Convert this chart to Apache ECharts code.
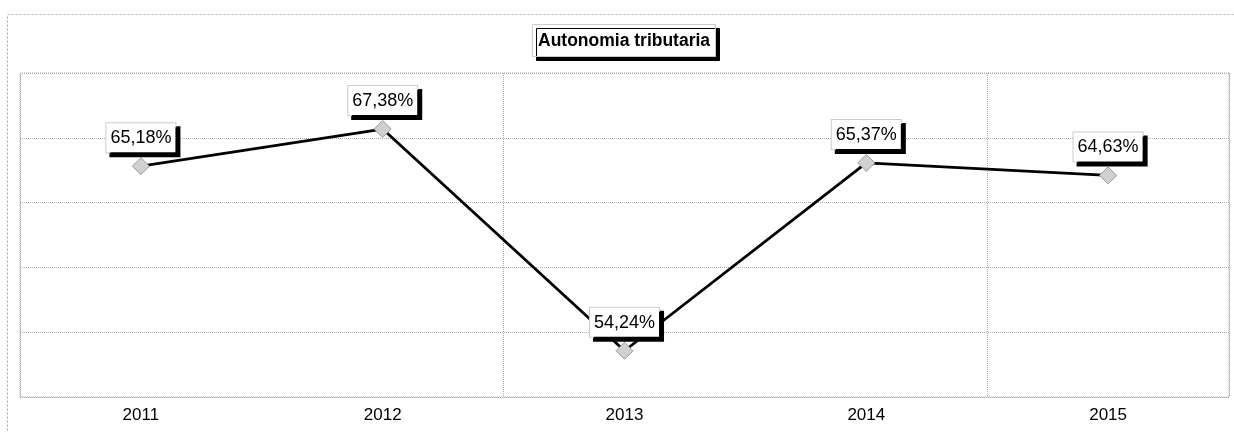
<!DOCTYPE html>
<html lang="es">

<head>
  <meta charset="UTF-8">
  <title>Autonomia tributaria</title>
  <style>
    html, body {
      margin: 0;
      padding: 0;
      background: #fff;
    }

    #chart {
      width: 1234px;
      height: 432px;
    }

  </style>
  <script src="https://cdn.jsdelivr.net/npm/echarts@6/dist/echarts.min.js"></script>
</head>

<body>
  <div id="chart"></div>
  <script>
    var years = ['2011', '2012', '2013', '2014', '2015'];
    var autonomia = [65.18, 67.38, 54.24, 65.37, 64.63];

    var chart = echarts.init(document.getElementById('chart'));

    function pct(v) {
      return v.toFixed(2).replace('.', ',') + '%';
    }

    var option = {
      animation: false,
      backgroundColor: '#fff',
      textStyle: {
        fontFamily: 'Liberation Sans, Arial, sans-serif'
      },
      title: {
        text: 'Autonomia tributaria',
        left: 532,
        top: 24,
        padding: [8, 6, 7, 6],
        backgroundColor: '#fff',
        borderColor: '#ccc',
        borderWidth: 1,
        shadowColor: '#000',
        shadowBlur: 0,
        shadowOffsetX: 4,
        shadowOffsetY: 4,
        textStyle: {
          color: '#000',
          fontSize: 17.5,
          fontWeight: 'bold',
          fontFamily: 'Liberation Sans, Arial, sans-serif'
        }
      },
      graphic: [{
        type: 'rect',
        silent: true,
        shape: { x: 7.5, y: 14.5, width: 1240, height: 430 },
        style: { fill: 'none', stroke: '#aaa', lineWidth: 1, lineDash: [2, 2] }
      }],
      grid: {
        left: 20,
        right: 5,
        top: 73,
        bottom: 35,
        show: true,
        borderColor: '#aaa',
        borderWidth: 1,
        borderType: 'dotted'
      },
      xAxis: {
        type: 'category',
        data: years,
        boundaryGap: true,
        axisLine: { show: false },
        axisTick: { show: false },
        axisLabel: {
          color: '#000',
          fontSize: 17,
          margin: 10
        },
        splitLine: {
          show: true,
          interval: 1,
          lineStyle: { color: '#aaa', type: 'dotted', width: 1 }
        }
      },
      yAxis: [{
        type: 'value',
        min: 51.5,
        max: 70.7,
        show: false,
        splitLine: { show: false }
      }, {
        type: 'value',
        min: 0,
        max: 5,
        interval: 1,
        axisLine: { show: false },
        axisTick: { show: false },
        axisLabel: { show: false },
        splitLine: {
          show: true,
          lineStyle: { color: '#aaa', type: 'dotted', width: 1 }
        }
      }],
      series: [{
        name: 'Autonomia tributaria',
        type: 'line',
        yAxisIndex: 0,
        data: autonomia,
        symbol: 'diamond',
        symbolSize: 17,
        lineStyle: { color: '#000', width: 2.8 },
        itemStyle: { color: '#d0d0d0', borderColor: '#999', borderWidth: 1 },
        label: {
          show: true,
          position: 'top',
          distance: 5,
          formatter: function (p) {
            return pct(p.value);
          },
          color: '#000',
          fontSize: 18,
          fontFamily: 'Liberation Sans, Arial, sans-serif',
          backgroundColor: '#fff',
          borderColor: '#ccc',
          borderWidth: 1,
          padding: [6, 4, 5, 4],
          shadowColor: '#000',
          shadowBlur: 0,
          shadowOffsetX: 4,
          shadowOffsetY: 4
        }
      }]
    };

    chart.setOption(option);

  </script>
</body>

</html>
